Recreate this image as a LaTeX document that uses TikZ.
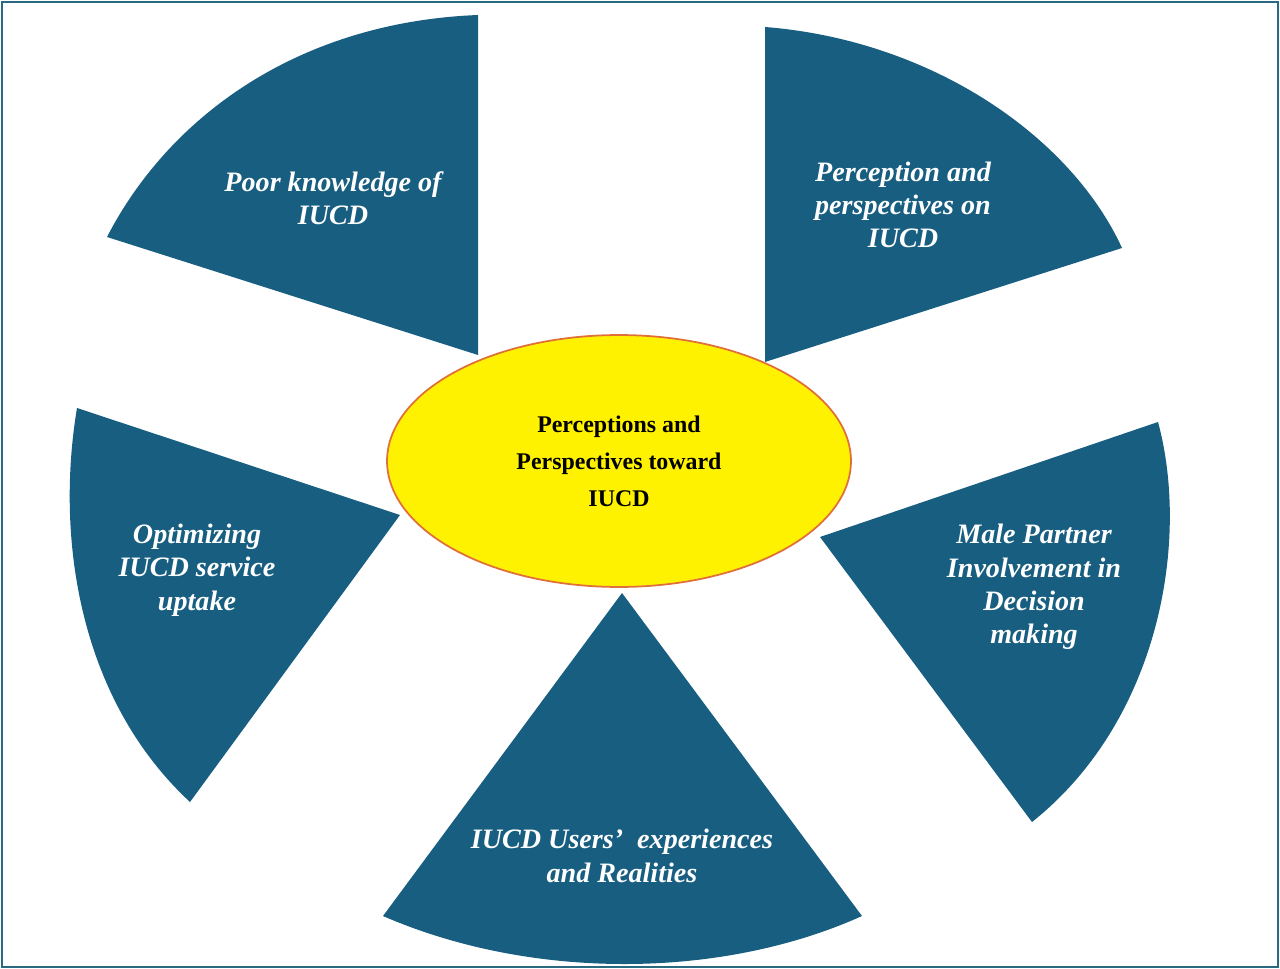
\documentclass[tikz,border=0pt]{standalone}
\usepackage{fontspec}
\setmainfont{Liberation Serif}
\usetikzlibrary{shapes.geometric}
\definecolor{wedge}{HTML}{185E80}
\definecolor{frame}{HTML}{2A6A80}
\definecolor{elb}{HTML}{E0703A}
\begin{document}
\begin{tikzpicture}[x=0.02cm,y=-0.02cm,
  wd/.style={fill=wedge,draw=none},
  lab/.style={text=white,font=\fontsize{16}{19}\selectfont\bfseries\itshape,align=center}]
\useasboundingbox (0,0) rectangle (1280,969);
\draw[frame,line width=0.8pt] (2,2) rectangle (1278,967);
\path[wd] (478,15) -- (478,355) -- (107,237) .. controls (170,115) and (300,22) .. cycle;
\path[wd] (765,27) -- (765,362) -- (1122,248) .. controls (1070,135) and (930,40) .. cycle;
\path[wd] (820,537) -- (1158,422) .. controls (1190,540) and (1160,720) .. (1032,822) -- cycle;
\path[wd] (622,593) -- (862,916) .. controls (720,980) and (530,980) .. (383,916) -- cycle;
\path[wd] (400,515) -- (77,408) .. controls (55,540) and (80,700) .. (190,802) -- cycle;
\node (c) at (619,461) [ellipse,draw=elb,fill=yellow,line width=1pt,inner sep=0pt,
  minimum width=9.28cm,minimum height=5.04cm,align=center,
  font=\fontsize{13.6}{21}\selectfont\bfseries] {Perceptions and\\Perspectives toward\\IUCD};
\node (a) at (333,198) [lab] {Poor knowledge of\\IUCD};
\node (b) at (903,205) [lab] {Perception and\\perspectives on\\IUCD};
\node (r) at (1034,587) [lab] {Male Partner\\Involvement in\\Decision\\making};
\node (u) at (622,856) [lab] {IUCD Users’ \ experiences\\and Realities};
\node (l) at (197,570) [lab] {Optimizing\\IUCD service\\uptake};
\end{tikzpicture}
\end{document}
